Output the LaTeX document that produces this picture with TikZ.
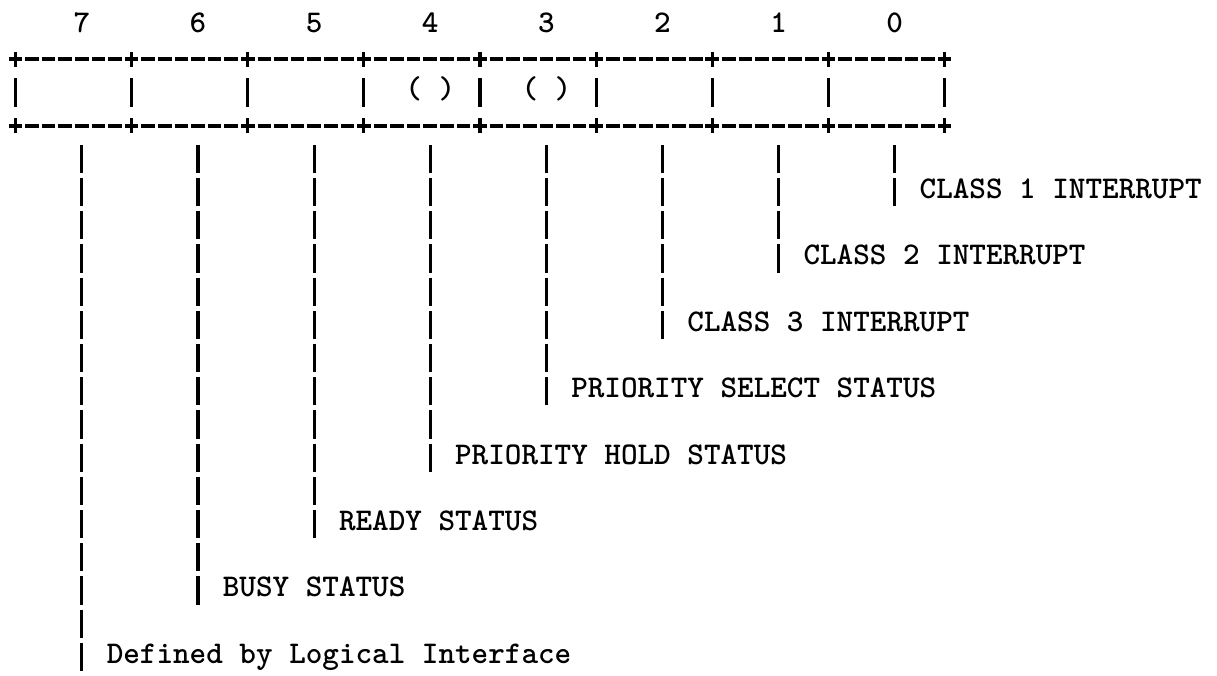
\documentclass[tikz,border=0pt]{standalone}
\begin{document}
\begin{tikzpicture}[x=1pt,y=-1pt,
  ascii/.style={font=\fontsize{31.6}{33}\selectfont\ttfamily\bfseries, inner sep=0pt, outer sep=0pt},
  cellbox/.style={draw=none, minimum width=116.13pt, minimum height=67pt, inner sep=0pt, outer sep=0pt},
  rulerow/.style={line width=3.3pt, dash pattern=on 13.6pt off 2.99pt},
  barline/.style={line width=3.2pt},
  leaderline/.style={line width=3.2pt, dash pattern=on 28.2pt off 5pt}]
\def\cw{16.59}
\def\xo{15.5}
\def\yo{32.5}
\def\rp{33.2}
\fill[white] (0,0) rectangle (1217,675);
\path[use as bounding box] (0,0) rectangle (1217,675);
% register cells and bit numbers
\foreach \i in {7,6,5,4,3,2,1,0}{
  \pgfmathsetmacro\xc{\xo+\cw*(7*(7-\i)+3.5)}
  \pgfmathsetmacro\xd{\xo+\cw*(7*(7-\i)+4)}
  \node[cellbox] (b\i) at (\xc,{\yo+\rp*2-6.3}) {};
  \node[ascii, anchor=base] (d\i) at (\xd,\yo) {\i};
}
\node[ascii, anchor=base] (p4) at ({\xo+\cw*25},{\yo+\rp*2}) {( )};
\node[ascii, anchor=base] (p3) at ({\xo+\cw*32},{\yo+\rp*2}) {( )};
% top and bottom rules
\draw[rulerow] ([xshift=-6.8pt]b7.north west) -- ([xshift=6.8pt]b0.north east);
\draw[rulerow] ([xshift=-6.8pt]b7.south west) -- ([xshift=6.8pt]b0.south east);
% plus marks and cell sides
\foreach \k in {0,...,8}{
  \pgfmathsetmacro\xs{\xo+\cw*7*\k}
  \draw[barline] (\xs,{\yo+\rp*1-6.3-7.5}) -- (\xs,{\yo+\rp*1-6.3+7.5});
  \draw[barline] (\xs,{\yo+\rp*3-6.3-7.5}) -- (\xs,{\yo+\rp*3-6.3+7.5});
  \draw[barline] (\xs,{\yo+\rp*2-20.5}) -- (\xs,{\yo+\rp*2+7.7});
}
% leaders and labels
\foreach \i/\lab in {0/CLASS 1 INTERRUPT,1/CLASS 2 INTERRUPT,2/CLASS 3 INTERRUPT,3/PRIORITY SELECT STATUS,4/PRIORITY HOLD STATUS,5/READY STATUS,6/BUSY STATUS,7/Defined by Logical Interface}{
  \pgfmathsetmacro\xb{\xo+\cw*(7*(7-\i)+4)}
  \pgfmathsetmacro\yt{\yo+\rp*4-20.5}
  \pgfmathsetmacro\yl{\yo+\rp*(5+2*\i)}
  \coordinate (t\i) at (\xb,\yt);
  \coordinate (e\i) at (\xb,\yl+7.7);
  \draw[leaderline] (t\i) -- (e\i);
  \node[ascii, anchor=base west] (L\i) at (\xb+24.9,\yl) {\lab};
}
\end{tikzpicture}
\end{document}
